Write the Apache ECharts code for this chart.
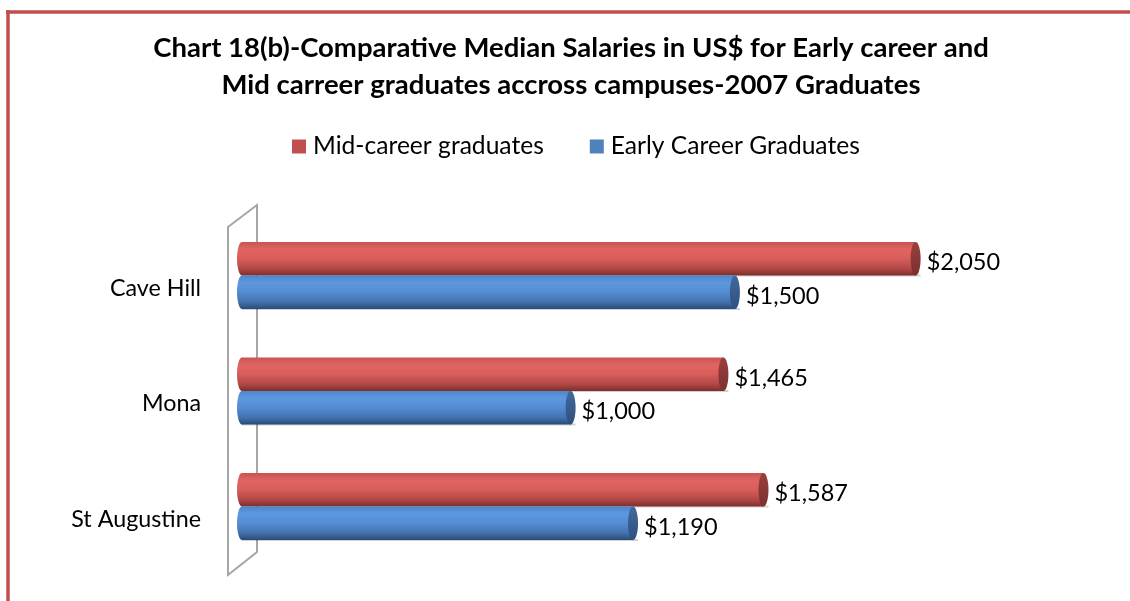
<!DOCTYPE html>
<html>
<head>
<meta charset="utf-8">
<script src="https://cdn.jsdelivr.net/npm/echarts@6/dist/echarts.min.js"></script>
<style>
  html, body { margin: 0; padding: 0; background: #fff; }
  #chart { width: 1130px; height: 601px; }
</style>
</head>
<body>
<div id="chart"></div>
<script>
// ---- data ----
const categories = ['Cave Hill', 'Mona', 'St Augustine'];
const midCareer = [2050, 1465, 1587];
const earlyCareer = [1500, 1000, 1190];
const seriesNames = ['Mid-career graduates', 'Early Career Graduates'];
const titleLines = [
  'Chart 18(b)-Comparative Median Salaries in US$ for Early career and',
  'Mid carreer graduates accross campuses-2007 Graduates'
];

// ---- style ----
const FONT = 'Lato, "Open Sans", sans-serif';
const BAR_FRAC = 0.29;
const CAP_RX = 5;

const palettes = [
  { legend: '#c0504d',
    body: [[0, '#c95451'], [0.22, '#df6462'], [0.5, '#d85d5b'], [0.8, '#b14745'], [1, '#7b2f2d']],
    cap: [[0, '#9a403e'], [1, '#7a302e']] },
  { legend: '#4f81bd',
    body: [[0, '#4f86cc'], [0.22, '#5c98e0'], [0.5, '#548dd3'], [0.8, '#4371ad'], [1, '#2a4a75']],
    cap: [[0, '#41699c'], [1, '#2f5080']] }
];

function grad(stops) {
  return new echarts.graphic.LinearGradient(0, 0, 0, 1,
    stops.map(s => ({ offset: s[0], color: s[1] })));
}

function fmt(v) { return '$' + v.toLocaleString('en-US'); }

function makeRender(slot, pal) {
  return function (params, api) {
    const v = api.value(0);
    const c = api.value(1);
    const p0 = api.coord([0, c]);
    const p1 = api.coord([v, c]);
    const band = api.size([0, 1])[1];
    const h = band * BAR_FRAC;
    const yTop = p0[1] - h + slot * h;
    const cy = yTop + h / 2;
    const x0 = p0[0], x1 = p1[0];
    return {
      type: 'group',
      children: [
        { type: 'rect', shape: { x: x0, y: yTop + h - 1, width: x1 - x0 + CAP_RX, height: 2 },
          style: { fill: 'rgba(0,0,0,0.18)' } },
        { type: 'ellipse', shape: { cx: x0, cy: cy, rx: CAP_RX, ry: h / 2 },
          style: { fill: grad(pal.body) } },
        { type: 'rect', shape: { x: x0, y: yTop, width: x1 - x0, height: h },
          style: { fill: grad(pal.body) } },
        { type: 'ellipse', shape: { cx: x1, cy: cy, rx: CAP_RX, ry: h / 2 },
          style: { fill: grad(pal.cap) } },
        { type: 'text', x: x1 + CAP_RX + 6, y: cy + 4,
          style: { text: fmt(v), fill: '#000', font: '23.5px ' + FONT,
                   verticalAlign: 'middle', align: 'left' } }
      ]
    };
  };
}

const seriesData = [midCareer, earlyCareer];

const chart = echarts.init(document.getElementById('chart'));
chart.setOption({
  backgroundColor: '#fff',
  animation: false,
  title: {
    text: titleLines.join('\n'),
    left: 571, top: 30, textAlign: 'center', padding: 0,
    textStyle: { fontFamily: FONT, fontWeight: 'bold', fontSize: 27.5, lineHeight: 37, color: '#000' }
  },
  legend: {
    data: seriesNames.map((n, i) => ({ name: n, icon: 'rect', itemStyle: { color: palettes[i].legend } })),
    left: 292, top: 134, padding: 0,
    itemWidth: 14, itemHeight: 14, itemGap: 46,
    textStyle: { fontFamily: FONT, fontSize: 24.6, color: '#000', padding: [0, 0, 0, 2] }
  },
  grid: { left: 242, top: 217.75, height: 346.5, width: 821.5 },
  xAxis: { type: 'value', min: 0, max: 2500, show: false },
  yAxis: {
    type: 'category', data: categories, inverse: true,
    axisLine: { show: false }, axisTick: { show: false }, splitLine: { show: false },
    axisLabel: { margin: 41, fontFamily: FONT, fontSize: 23.3, color: '#000',
                 verticalAlign: 'top', lineHeight: 25 }
  },
  graphic: [
    { type: 'line', z: 0, shape: { x1: 6, y1: 12, x2: 1130, y2: 12 },
      style: { stroke: '#c0504d', lineWidth: 3.5 } },
    { type: 'line', z: 0, shape: { x1: 8, y1: 10, x2: 8, y2: 601 },
      style: { stroke: '#c0504d', lineWidth: 3.5 } },
    { type: 'polygon', z: 0,
      shape: { points: [[228, 227], [257, 205], [257, 552], [228, 575]] },
      style: { fill: 'none', stroke: '#a6a6a6', lineWidth: 2 } }
  ],
  series: seriesData.map((arr, i) => ({
    type: 'custom',
    name: seriesNames[i],
    z: 5,
    itemStyle: { color: palettes[i].legend },
    encode: { x: 0, y: 1 },
    data: arr.map((v, k) => [v, k]),
    renderItem: makeRender(i, palettes[i])
  }))
});
</script>
</body>
</html>
